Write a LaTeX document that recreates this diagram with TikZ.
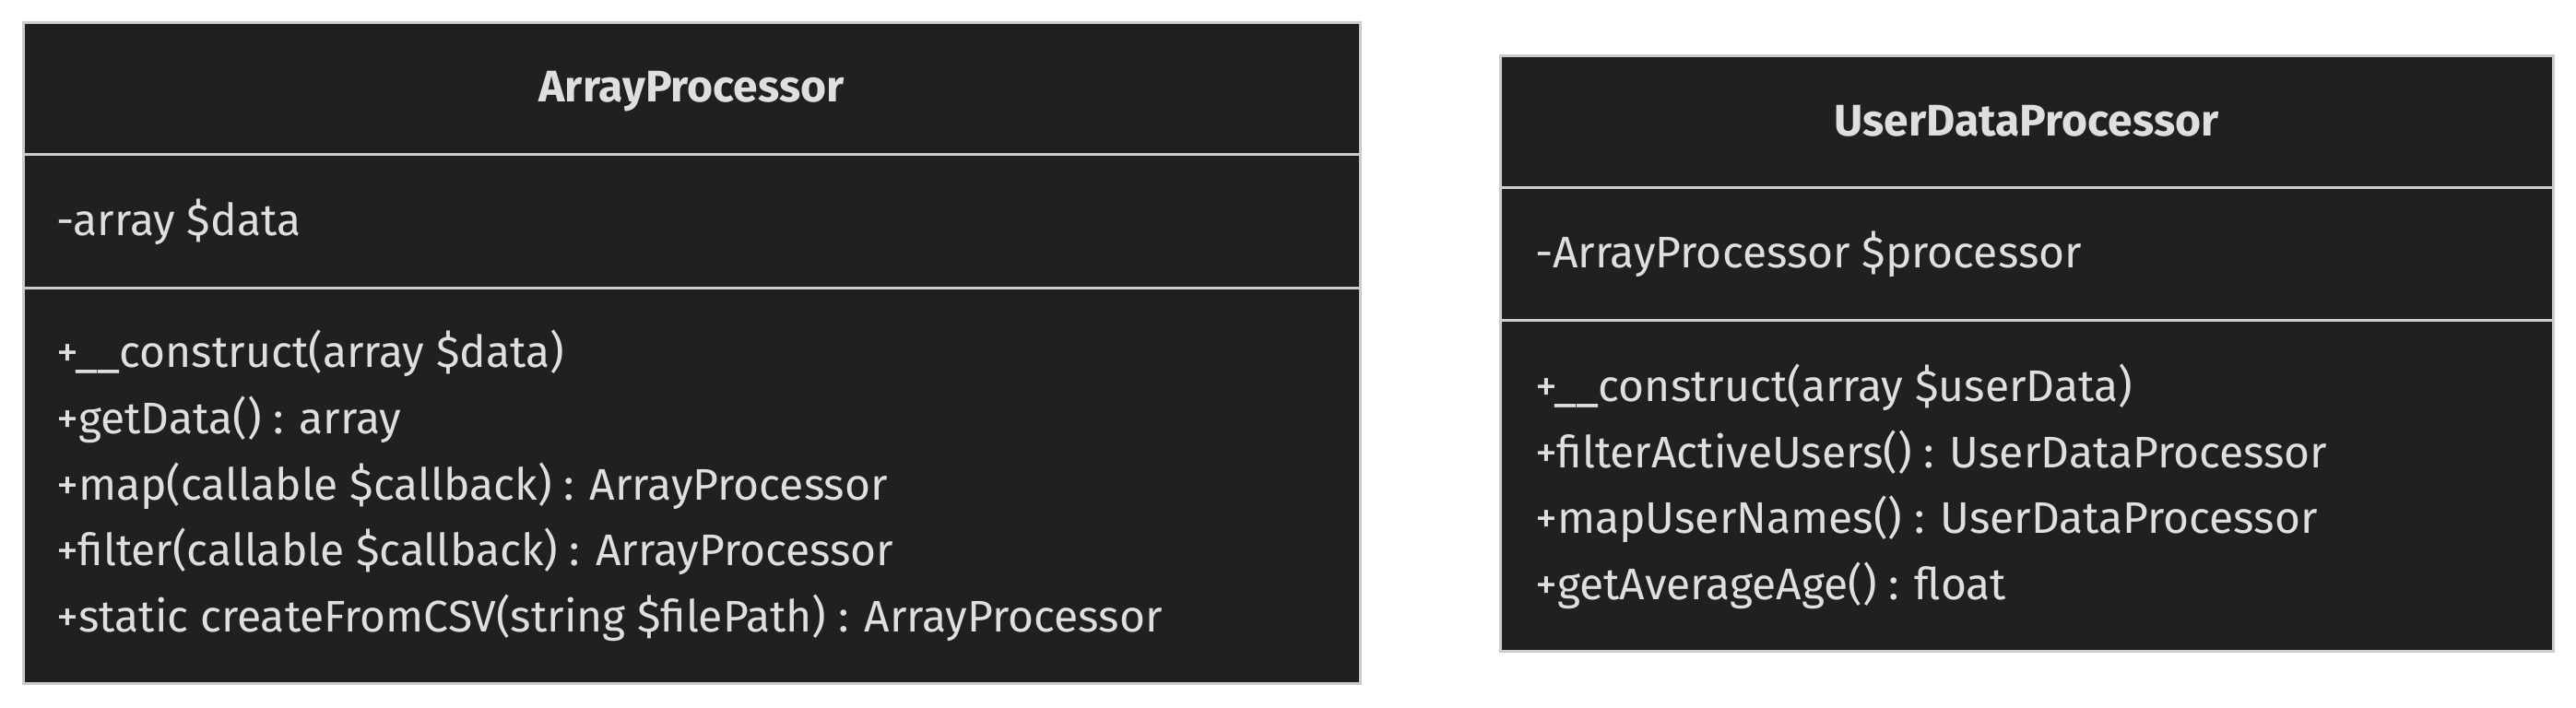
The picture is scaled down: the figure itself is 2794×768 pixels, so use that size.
\documentclass[tikz,border=0pt]{standalone}
\usepackage{fontspec}
\setmainfont{Fira Sans}
\definecolor{boxfill}{HTML}{1F2020}
\definecolor{boxline}{HTML}{CCCCCC}
\definecolor{membertext}{HTML}{E0DFDF}
\begin{document}
\begin{tikzpicture}[x=1pt,y=-1pt,
    classbox/.style={fill=boxfill,draw=boxline,line width=3pt},
    divider/.style={draw=boxline,line width=3pt},
    classname/.style={text=membertext,inner sep=0pt,anchor=base,font=\fontsize{48}{56}\selectfont\bfseries},
    member/.style={text=membertext,inner sep=0pt,anchor=base west,font=\fontsize{48}{56}\selectfont}]
    \useasboundingbox (0,0) rectangle (2794,768);
    % ArrayProcessor
    \draw [classbox] (25,25) rectangle (1475,741);
    \draw [divider] (25,167) -- (1475,167);
    \draw [divider] (25,312) -- (1475,312);
    \node [classname] (apname) at (750,110) {ArrayProcessor};
    \node [member] (apdata) at (61,255) {-array \$data};
    \node [member] (apctor) at (61,398) {+\_\_construct(array \$data)};
    \node [member] (apget) at (61,470) {+getData() : array};
    \node [member] (apmap) at (61,542) {+map(callable \$callback) : ArrayProcessor};
    \node [member] (apfilter) at (61,613) {+filter(callable \$callback) : ArrayProcessor};
    \node [member] (apcsv) at (61,685) {+static createFromCSV(string \$filePath) : ArrayProcessor};
    % UserDataProcessor
    \draw [classbox] (1627,61) rectangle (2769,706);
    \draw [divider] (1627,203) -- (2769,203);
    \draw [divider] (1627,347) -- (2769,347);
    \node [classname] (udname) at (2198,147) {UserDataProcessor};
    \node [member] (udproc) at (1665,290) {-ArrayProcessor \$processor};
    \node [member] (udctor) at (1665,435) {+\_\_construct(array \$userData)};
    \node [member] (udactive) at (1665,507) {+filterActiveUsers() : UserDataProcessor};
    \node [member] (udnames) at (1665,578) {+mapUserNames() : UserDataProcessor};
    \node [member] (udage) at (1665,650) {+getAverageAge() : float};
\end{tikzpicture}
\end{document}
